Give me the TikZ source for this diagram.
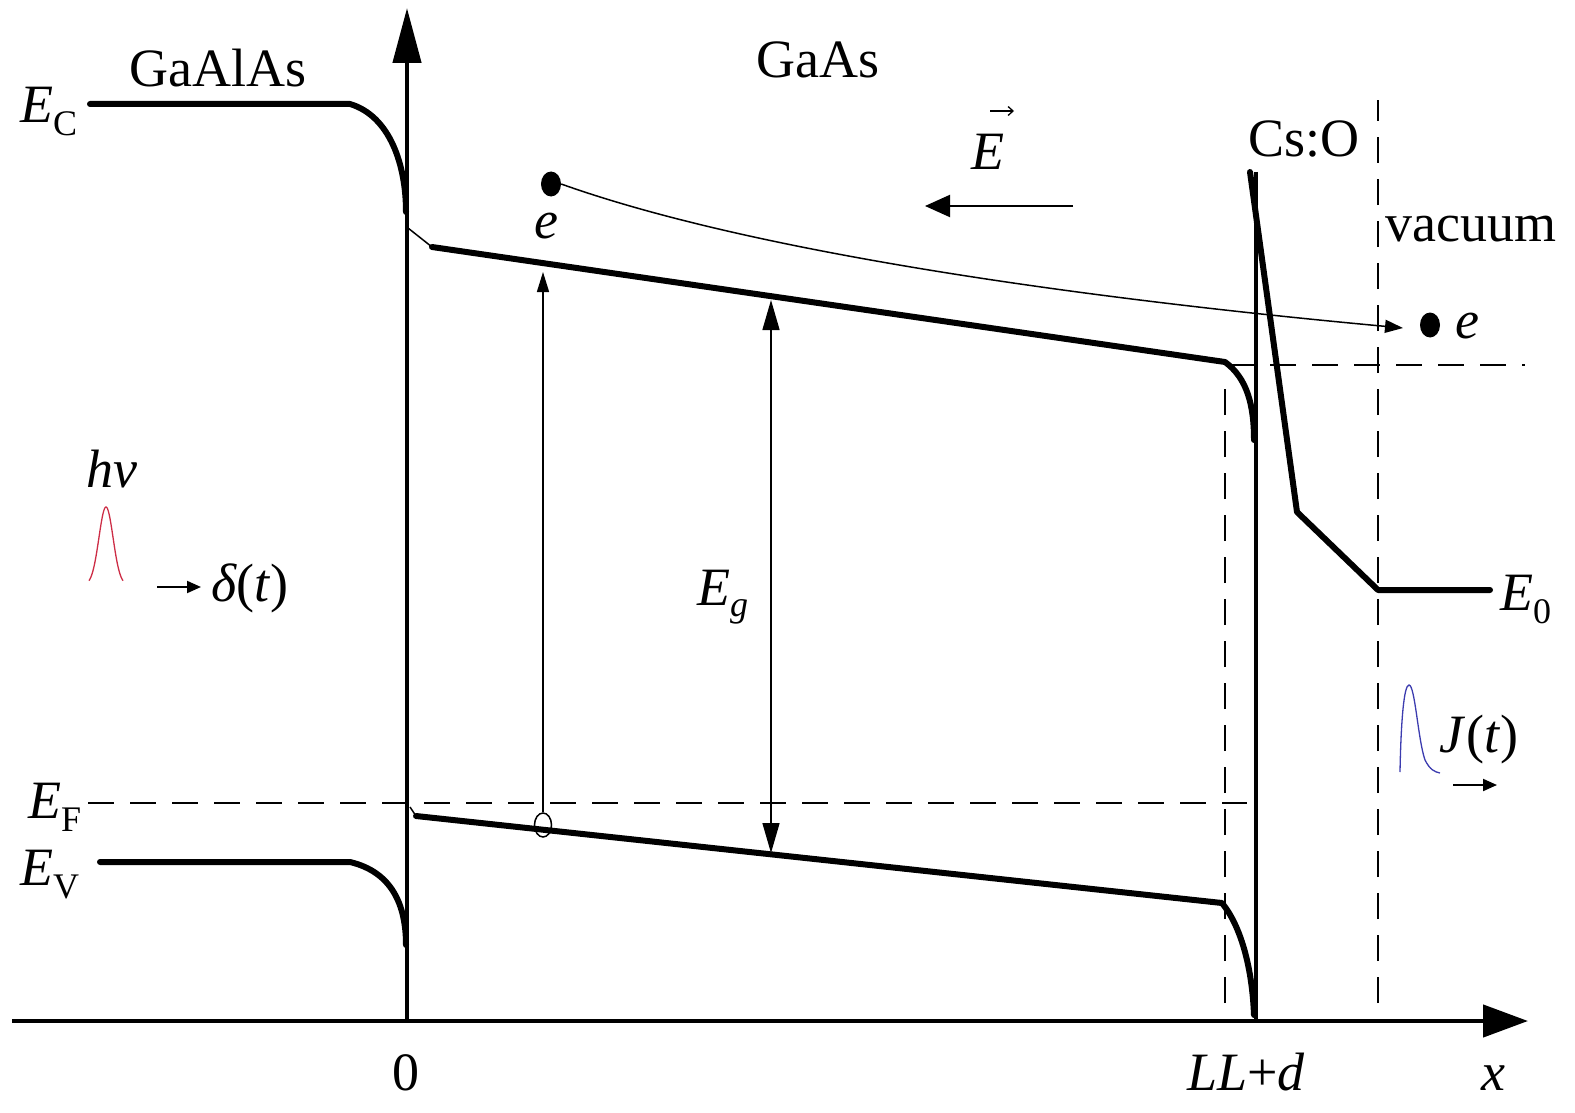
\documentclass[tikz,border=0pt]{standalone}
\usepackage{fontspec}
\setmainfont{Liberation Serif}
\usetikzlibrary{arrows.meta,shapes.geometric}
\newcommand\mysub[2][-13pt]{\raisebox{#1}{\fontsize{36}{40}\selectfont\upshape #2}}
\definecolor{pulsered}{RGB}{205,45,70}
\definecolor{pulseblue}{RGB}{60,60,175}
\begin{document}
\begin{tikzpicture}[x=1pt,y=-1pt,
  band/.style={line width=6pt, line cap=round, line join=round},
  axisline/.style={line width=4.5pt},
  thinline/.style={line width=1.5pt},
  dashline/.style={line width=1.8pt, dash pattern=on 26pt off 16pt},
  txt/.style={inner sep=0pt, font=\fontsize{54}{60}\selectfont},
  edot/.style={fill=black, ellipse, minimum width=20pt, minimum height=25pt, inner sep=0pt},
  holeshape/.style={draw=black, ellipse, line width=1.5pt, minimum width=17pt, minimum height=24pt, inner sep=0pt},
]
\useasboundingbox (0,0) rectangle (1575,1113);
% ---- axes
\coordinate (O) at (407,1021);
\coordinate (ytop) at (407,8);
\coordinate (xl) at (12,1021);
\coordinate (xr) at (1528,1021);
\draw[axisline, -{Triangle[length=55pt,width=28pt]}] (O) -- (ytop);
\draw[axisline, -{Triangle[length=45pt,width=32pt]}] (xl) -- (xr);
% ---- dashed lines
\draw[dashline] (88,803) -- (1247,803);
\draw[dashline] (1225,1003) -- (1225,383);
\draw[dashline] (1378,1003) -- (1378,100);
\draw[dashline] (1228,365) -- (1525,365);
% ---- hole and excitation arrow
\node[holeshape] (h) at (543,825) {};
\coordinate (htip) at (543,272);
\draw[thinline, -{Triangle[length=20pt,width=12pt]}] (h.north) -- (htip);
% ---- bands
\draw[band] (90,104) -- (350,104) .. controls (390,116) and (406,165) .. (406,212);
\draw[thinline] (408,228) -- (432,247);
\draw[band] (432,247) -- (1225,362) .. controls (1247,378) and (1254,405) .. (1254,440);
\draw[band] (100,862) -- (350,862) .. controls (392,872) and (406,905) .. (406,945);
\draw[thinline] (410,807) -- (416,816);
\draw[band] (416,816) -- (1222,903) .. controls (1240,925) and (1252,965) .. (1254,1015);
% ---- Cs:O barrier
\draw[axisline] (1256,172) -- (1256,1021);
\draw[band] (1250,172) -- (1297,512) -- (1378,590) -- (1490,590);
% ---- Eg arrow
\coordinate (egt) at (771,300);
\coordinate (egb) at (771,853);
\draw[thinline, {Triangle[length=30pt,width=17pt]}-{Triangle[length=30pt,width=17pt]}] (egt) -- (egb);
% ---- electron path
\node[edot] (e1) at (551,184) {};
\node[edot] (e2) at (1430,325) {};
\coordinate (etip) at (1403,328);
\draw[thinline, -{Triangle[length=18pt,width=13pt]}] (e1.east) .. controls (760,255) and (1100,300) .. (etip);
% ---- field arrow
\coordinate (fa) at (1073,206);
\coordinate (fb) at (925,206);
\draw[line width=2pt, -{Triangle[length=25pt,width=22pt]}] (fa) -- (fb);
\coordinate (va) at (990,111);
\coordinate (vb) at (1014,111);
\draw[line width=1.3pt, -{Straight Barb[length=5pt,width=9pt]}] (va) -- (vb);
% ---- pulses
\draw[pulsered, line width=1.3pt] plot[domain=-17:17, samples=80, smooth] ({106+\x},{585-78*exp(-(\x*\x)/100)});
\coordinate (da) at (157,587);
\coordinate (db) at (201,587);
\draw[line width=2pt, -{Triangle[length=14pt,width=12pt]}] (da) -- (db);
\draw[pulseblue, line width=1.3pt] (1400,772) .. controls (1401,720) and (1404,685) .. (1409,685)
   .. controls (1415,685) and (1418,740) .. (1425,760) .. controls (1430,770) and (1435,772) .. (1440,773);
\coordinate (ja) at (1453,785);
\coordinate (jb) at (1497,785);
\draw[line width=2pt, -{Triangle[length=14pt,width=12pt]}] (ja) -- (jb);
% ---- labels
\node[txt, anchor=base] (gaalas) at (218,87) {GaAlAs};
\node[txt, anchor=base] (gaas) at (818,78) {GaAs};
\node[txt, anchor=base] (cso) at (1304,157) {Cs:O};
\node[txt, anchor=base] (vac) at (1471,241) {vacuum};
\node[txt, anchor=base west] (EC) at (20,123) {\textit{E}\mysub{C}};
\node[txt, anchor=base west] (EF) at (28,818) {\textit{E}\mysub{F}};
\node[txt, anchor=base west] (EV) at (20,885) {\textit{E}\mysub{V}};
\node[txt, anchor=base west] (E0) at (1500,610) {\textit{E}\mysub{0}};
\node[txt, anchor=base west] (Eg) at (697,605) {\textit{E}\mysub[-11pt]{\itshape g}};
\node[txt, anchor=base] (el1) at (546,238) {\textit{e}};
\node[txt, anchor=base] (el2) at (1467,338) {\textit{e}};
\node[txt, anchor=base] (Ef) at (988,170) {\textit{E}};
\node[txt, anchor=base] (hv) at (112,487) {\textit{hv}};
\node[txt, anchor=base] (dt) at (250,601) {\textit{δ}(\textit{t})};
\node[txt, anchor=base] (jt) at (1479,752) {\textit{J}(\textit{t})};
\node[txt, anchor=base] (zero) at (406,1090) {0};
\node[txt, anchor=base] (lld) at (1246,1090) {\textit{LL}+\textit{d}};
\node[txt, anchor=base] (xlab) at (1493,1090) {\textit{x}};
\end{tikzpicture}
\end{document}
